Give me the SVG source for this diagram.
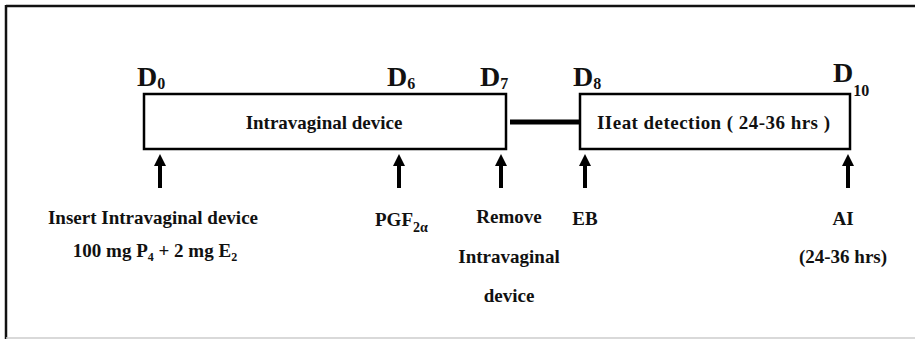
<svg xmlns="http://www.w3.org/2000/svg" width="915" height="339" viewBox="0 0 915 339">
<defs>
<marker id="ah" markerWidth="3" markerHeight="3" refX="1.5" refY="1.5" orient="auto" markerUnits="strokeWidth" viewBox="0 0 3 3">
<path d="M0,0 L3,1.5 L0,3 Z" fill="#000"/>
</marker>
</defs>
<style>
text{font-family:"Liberation Serif","Times New Roman",serif;font-weight:bold;fill:#111;}
.day{font-size:28px;}
.sub{font-size:16px;}
.in{font-size:19px;}
.lb{font-size:19px;}
.box{fill:#fff;stroke:#000;stroke-width:2.5;}
.arr{stroke:#000;stroke-width:4;fill:none;marker-end:url(#ah);}
</style>
<rect width="915" height="339" fill="#fff"/>
<g id="frame">
<line x1="6" y1="6" x2="915" y2="6" stroke="#111" stroke-width="2.5"/>
<line x1="6" y1="5" x2="6" y2="339" stroke="#111" stroke-width="2.5"/>
<line x1="6" y1="338" x2="915" y2="338" stroke="#ccc" stroke-width="1.5"/>
</g>
<g id="box-intravaginal">
<rect class="box" x="144" y="94" width="362" height="55"/>
<text class="in" x="324" y="129" text-anchor="middle">Intravaginal device</text>
</g>
<g id="box-heat">
<rect class="box" x="580" y="94" width="270" height="55"/>
<text class="in" x="597" y="129" textLength="233" lengthAdjust="spacing">IIeat detection  ( 24-36  hrs )</text>
</g>
<g id="connectors">
<line x1="510" y1="122" x2="579" y2="122" stroke="#000" stroke-width="5"/>
<line class="arr" x1="160" y1="188" x2="160" y2="160"/>
<line class="arr" x1="399" y1="188" x2="399" y2="160"/>
<line class="arr" x1="501" y1="188" x2="501" y2="160"/>
<line class="arr" x1="585" y1="188" x2="585" y2="160"/>
<line class="arr" x1="848" y1="188" x2="848" y2="160"/>
</g>
<g id="day-labels">
<text class="day" x="137" y="86">D<tspan class="sub" dy="3">0</tspan></text>
<text class="day" x="387" y="86">D<tspan class="sub" dy="3">6</tspan></text>
<text class="day" x="480" y="86">D<tspan class="sub" dy="3">7</tspan></text>
<text class="day" x="573" y="86">D<tspan class="sub" dy="3">8</tspan></text>
<text class="day" x="833" y="82">D<tspan class="sub" dy="14">10</tspan></text>
</g>
<g id="event-insert">
<text class="lb" x="153" y="224" text-anchor="middle">Insert Intravaginal device</text>
<text class="lb" x="155" y="257" text-anchor="middle">100 mg P<tspan font-size="12" dy="4">4</tspan><tspan dy="-4"> + 2 mg E</tspan><tspan font-size="12" dy="4">2</tspan></text>
</g>
<g id="event-pgf">
<text class="lb" x="375" y="226">PGF<tspan font-size="14" dy="6">2α</tspan></text>
</g>
<g id="event-remove">
<text class="lb" x="509" y="223" text-anchor="middle">Remove</text>
<text class="lb" x="509" y="263" text-anchor="middle">Intravaginal</text>
<text class="lb" x="509" y="302" text-anchor="middle">device</text>
</g>
<g id="event-eb">
<text class="lb" x="585" y="225" text-anchor="middle">EB</text>
</g>
<g id="event-ai">
<text class="lb" x="843" y="225" text-anchor="middle">AI</text>
<text class="lb" x="843" y="263" text-anchor="middle">(24-36 hrs)</text>
</g>
</svg>
